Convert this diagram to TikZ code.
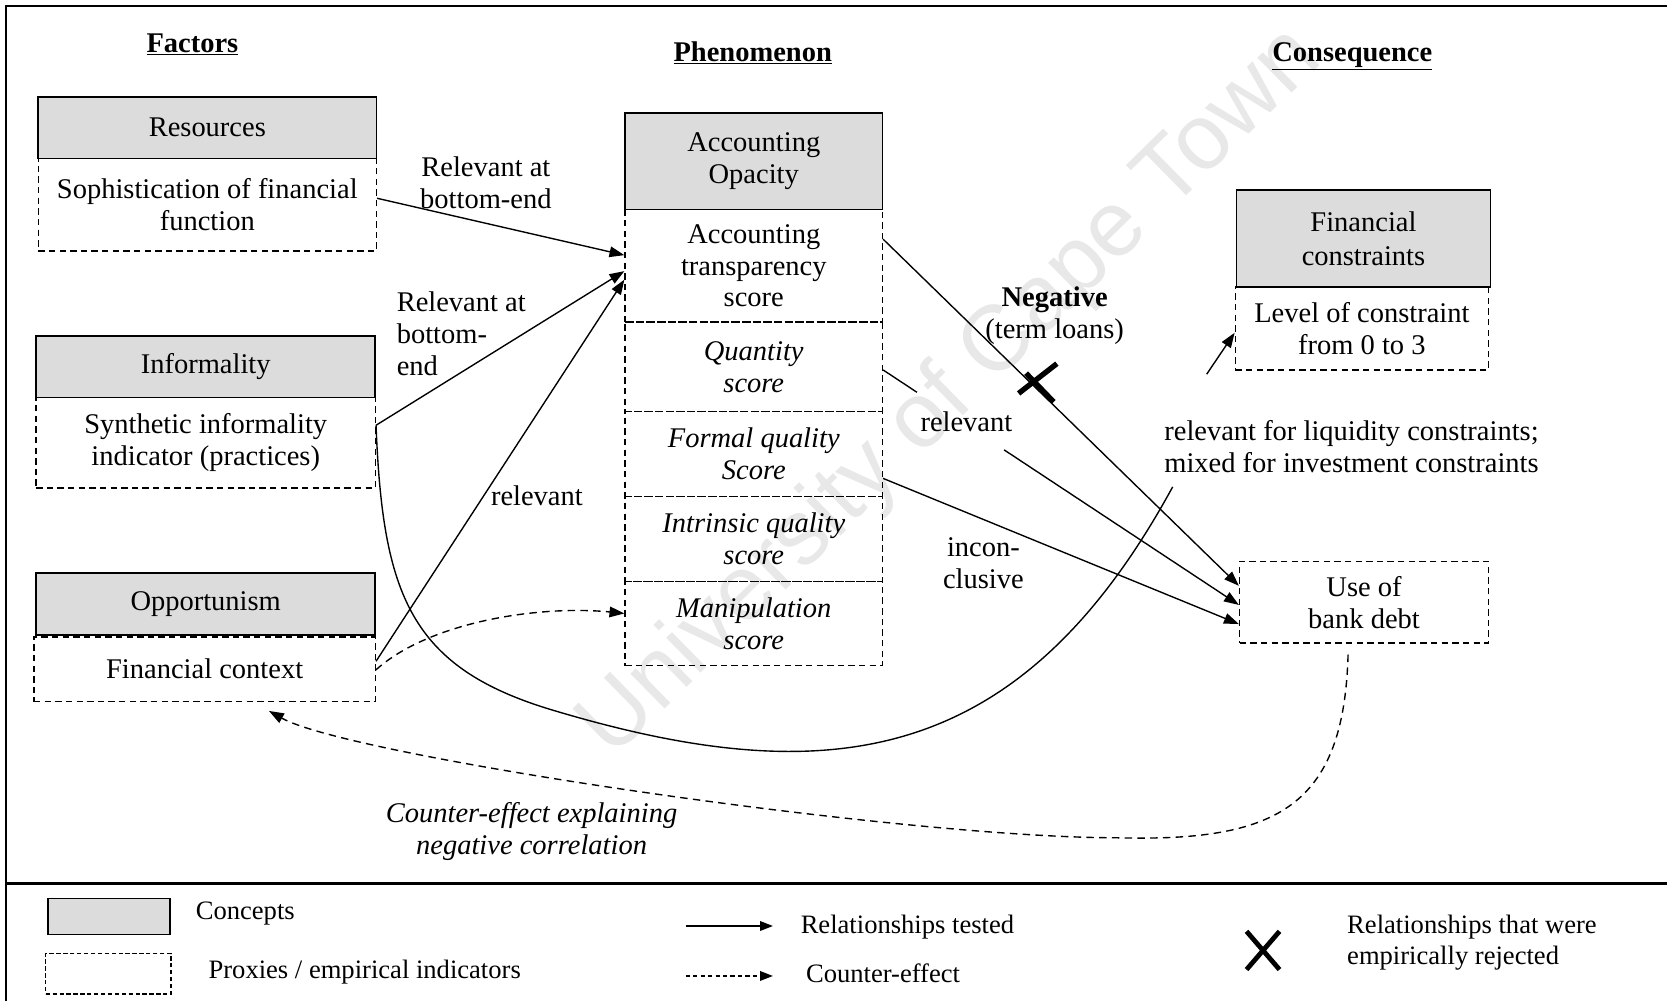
\documentclass[tikz,border=0pt]{standalone}
\usepackage{fontspec}
\setmainfont{Liberation Serif}
\newfontfamily\wmfont{Liberation Sans}
\usetikzlibrary{arrows.meta,calc}
\definecolor{conceptgray}{HTML}{DCDCDC}
\definecolor{wmgray}{HTML}{E8E8E8}
\tikzset{
  base/.style={font=\fontsize{26.8}{30}\selectfont, align=center, inner sep=0pt},
  concept/.style={base, draw, line width=1.6pt, fill=conceptgray},
  proxy/.style={base, draw, line width=1.4pt, dash pattern=on 6pt off 4pt},
  lbl/.style={base},
  heading/.style={base, font=\fontsize{26.8}{30}\selectfont\bfseries},
  rel/.style={line width=1.3pt, -{Triangle[length=14pt,width=10pt]}},
  counter/.style={rel, dash pattern=on 7pt off 5pt},
  plainline/.style={line width=1.3pt},
  reject/.style={line width=5pt},
  legtxt/.style={font=\fontsize{25}{29}\selectfont, align=left, inner sep=0pt},
  frameline/.style={line width=2pt},
}
\begin{document}
\begin{tikzpicture}[x=1pt,y=-1pt]
\useasboundingbox (0,0) rectangle (1568,942);
\fill[white] (0,0) rectangle (1568,942);

% watermark
\node[font=\wmfont\fontsize{87}{87}\selectfont, text=wmgray, rotate=44.5, inner sep=0pt] (wm) at (895,370) {University of Cape Town};

% frame and legend separator
\draw[frameline] (1568,6) -- (6,6) -- (6,942);
\draw[frameline, line width=2.4pt] (6,831) -- (1568,831);

% column headings
\node[heading] (hfac) at (181,42) {\underline{Factors}};
\node[heading] (hphe) at (708,50) {\underline{Phenomenon}};
\node[heading] (hcon) at (1272,53) {\underline{Consequence}};

% factors
\node[proxy, minimum width=318pt, minimum height=87pt] (soph) at (195,192.5) {Sophistication of financial\\function};
\node[concept, minimum width=318pt, minimum height=58pt] (res) at (195,120) {Resources};
\node[proxy, minimum width=319pt, minimum height=85pt] (syn) at (193.5,416.5) {Synthetic informality\\indicator (practices)};
\node[concept, minimum width=319pt, minimum height=58pt] (inf) at (193.5,345) {Informality};
\node[proxy, minimum width=321pt, minimum height=61pt] (fin) at (192.5,629.5) {Financial context};
\node[concept, minimum width=319pt, minimum height=58pt] (opp) at (193.5,568) {Opportunism};

% phenomenon
\node[proxy, minimum width=242pt, minimum height=106pt] (ats) at (709,250) {Accounting\\transparency\\score};
\node[proxy, minimum width=242pt, minimum height=84pt, font=\fontsize{26.8}{30}\selectfont\itshape] (qs) at (709,345) {Quantity\\score};
\node[proxy, minimum width=242pt, minimum height=80pt, font=\fontsize{26.8}{30}\selectfont\itshape] (fqs) at (709,427) {Formal quality\\Score};
\node[proxy, minimum width=242pt, minimum height=80pt, font=\fontsize{26.8}{30}\selectfont\itshape] (iqs) at (709,507) {Intrinsic quality\\score};
\node[proxy, minimum width=242pt, minimum height=79pt, font=\fontsize{26.8}{30}\selectfont\itshape] (ms) at (709,586.5) {Manipulation\\score};
\node[concept, minimum width=242pt, minimum height=91pt] (acc) at (709,151.5) {Accounting\\Opacity};

% consequence
\node[proxy, minimum width=238pt, minimum height=78pt] (lvl) at (1281,309) {Level of constraint\\from 0 to 3};
\node[concept, minimum width=239pt, minimum height=91pt, font=\fontsize{26.8}{32}\selectfont] (fc) at (1282.5,224.5) {Financial\\constraints};
\node[proxy, minimum width=234pt, minimum height=77pt] (bank) at (1283,566.5) {Use of\\bank debt};

% labels
\node[lbl] (l1) at (457,172) {Relevant at\\bottom-end};
\node[lbl, align=left, anchor=west] (l2) at (373,314) {Relevant at\\bottom-\\end};
\node[lbl] (l3) at (505,466) {relevant};
\node[lbl] (lneg) at (992,297) {\textbf{Negative}\\(term loans)};
\node[lbl] (l4) at (909,397) {relevant};
\node[lbl] (l5) at (925,530) {incon-\\clusive};
\node[lbl, align=left, anchor=west] (l6) at (1095,420) {relevant for liquidity constraints;\\mixed for investment constraints};
\node[lbl, font=\fontsize{26.8}{30}\selectfont\itshape] (l7) at (500,782) {Counter-effect explaining\\negative correlation};

% factors -> accounting transparency
\draw[rel] ([yshift=6pt]soph.east) -- ([yshift=10pt]ats.west);
\draw[rel] ([yshift=16.5pt]syn.east) -- ([yshift=-5pt]ats.west);
\draw[rel] ([yshift=7.5pt]fin.east) -- ([yshift=-13pt]ats.west);
\draw[counter] ([yshift=-0.5pt]fin.east) .. controls +(50,-45) and +(-80,-8) .. ([yshift=9.5pt]ms.west);

% informality -> financial constraints (interrupted by its label)
\coordinate (cbend) at (520,668);
\coordinate (cgap1) at (1103,458);
\coordinate (cgap2) at (1135,352);
\draw[plainline] ([yshift=16.5pt]syn.east) .. controls (360,560) and (386,628) .. (cbend)
  .. controls (778.7,745.5) and (959,722) .. (cgap1);
\draw[rel] (cgap2) -- ([yshift=-4pt]lvl.west);

% accounting scores -> use of bank debt
\coordinate (t1) at ([yshift=25pt]ats.east);
\coordinate (t2) at ([yshift=15.5pt]bank.west);
\draw[rel] (t1) -- (t2);
\coordinate (xc) at ($(t1)!0.4256!(t2)$);
\draw[reject] ($(xc)+(-8,-12.7)$) -- ($(xc)+(18,14.3)$);
\draw[reject] ($(xc)+(-15,6.3)$) -- ($(xc)+(21,-21.7)$);

\coordinate (q1) at ([yshift=-3pt]qs.east);
\coordinate (q2) at ([yshift=-2.5pt]bank.west);
\draw[plainline] (q1) -- ($(q1)!0.095!(q2)$);
\draw[rel] ($(q1)!0.34!(q2)$) -- (q2);

\draw[rel] ([yshift=-23pt]fqs.east) -- ([yshift=-20.5pt]bank.west);

% counter-effect back to the financial context
\coordinate (cs) at ([xshift=-15pt,yshift=-10pt]bank.south);
\coordinate (cm) at (1050,788);
\draw[counter] (cs) .. controls (1264,760) and (1200,792) .. (cm)
  .. controls (850,788) and (330,712) .. ([xshift=60.5pt,yshift=-8pt]fin.south);

% legend
\node[concept, minimum width=115pt, minimum height=34pt] (legc) at (102.5,862) {};
\node[proxy, dash pattern=on 4pt off 2.5pt, minimum width=118pt, minimum height=38pt] (legp) at (102,916) {};
\node[legtxt, anchor=west] (legct) at (184,859) {Concepts};
\node[legtxt, anchor=west] (legpt) at (196,914) {Proxies / empirical indicators};
\coordinate (lr1) at (645,871);
\coordinate (lr2) at (727,871);
\draw[line width=1.3pt, -{Triangle[length=12pt,width=9pt]}] (lr1) -- (lr2);
\node[legtxt, anchor=west] (legrt) at (753,872) {Relationships tested};
\coordinate (ld1) at (645,918);
\coordinate (ld2) at (727,918);
\draw[line width=1.3pt, dash pattern=on 4pt off 3pt, -{Triangle[length=12pt,width=9pt]}] (ld1) -- (ld2);
\node[legtxt, anchor=west] (legcet) at (758,915) {Counter-effect};
\coordinate (lx) at (1188,894);
\draw[line width=4.5pt] ($(lx)+(-15.5,-18)$) -- ($(lx)+(15.5,18)$);
\draw[line width=4.5pt] ($(lx)+(-15.5,18)$) -- ($(lx)+(15.5,-18)$);
\node[legtxt, anchor=west] (legxt) at (1267,887) {Relationships that were\\empirically rejected};
\end{tikzpicture}
\end{document}
